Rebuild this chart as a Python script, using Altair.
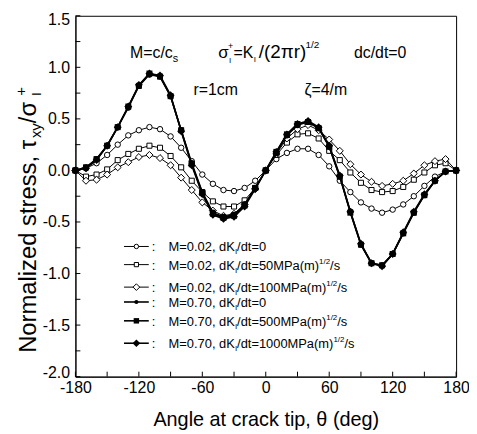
import altair as alt
import pandas as pd

# ---------------- data ----------------
theta = [-180, -170, -160, -150, -140, -130, -120, -110, -100, -90, -80, -70, -60, -50, -40, -30, -20, -10,
         0, 10, 20, 30, 40, 50, 60, 70, 80, 90, 100, 110, 120, 130, 140, 150, 160, 170, 180]

m002_dk0 = [0, 0.02, 0.07, 0.15, 0.25, 0.34, 0.39, 0.42, 0.40, 0.33, 0.22, 0.09, -0.04, -0.13, -0.19, -0.20, -0.17, -0.10,
            0, 0.11, 0.17, 0.21, 0.21, 0.15, 0.04, -0.10, -0.21, -0.31, -0.37, -0.41, -0.38, -0.33, -0.25, -0.15, -0.06, -0.01, 0]
m002_dk50 = [0, -0.06, -0.04, 0.01, 0.10, 0.16, 0.21, 0.24, 0.22, 0.14, 0.03, -0.10, -0.21, -0.30, -0.35, -0.35, -0.29, -0.17,
             0, 0.15, 0.27, 0.35, 0.36, 0.31, 0.19, 0.10, -0.02, -0.12, -0.19, -0.21, -0.20, -0.16, -0.09, -0.02, 0.05, 0.07, 0]
m002_dk100 = [0, -0.10, -0.09, -0.04, 0.03, 0.08, 0.13, 0.15, 0.12, 0.05, -0.07, -0.19, -0.31, -0.39, -0.44, -0.42, -0.33, -0.18,
              0, 0.16, 0.31, 0.40, 0.44, 0.39, 0.30, 0.19, 0.06, -0.04, -0.11, -0.15, -0.13, -0.10, -0.03, 0.05, 0.09, 0.11, 0]
m070_dk0 = [0, 0.03, 0.11, 0.24, 0.42, 0.61, 0.82, 0.93, 0.91, 0.72, 0.39, 0.07, -0.21, -0.41, -0.45, -0.43, -0.33, -0.17,
            0, 0.17, 0.34, 0.44, 0.47, 0.41, 0.23, -0.06, -0.40, -0.72, -0.90, -0.92, -0.81, -0.61, -0.41, -0.24, -0.10, -0.01, 0]
m070_dk500 = [0, 0.03, 0.11, 0.24, 0.42, 0.62, 0.82, 0.94, 0.91, 0.72, 0.39, 0.06, -0.22, -0.42, -0.46, -0.44, -0.34, -0.17,
              0, 0.18, 0.35, 0.45, 0.47, 0.41, 0.23, -0.06, -0.41, -0.72, -0.90, -0.92, -0.81, -0.61, -0.41, -0.24, -0.10, -0.01, 0]
m070_dk1000 = [0, 0.02, 0.10, 0.24, 0.42, 0.62, 0.83, 0.94, 0.92, 0.73, 0.38, 0.05, -0.23, -0.43, -0.47, -0.45, -0.35, -0.18,
               0, 0.18, 0.35, 0.45, 0.48, 0.42, 0.24, -0.05, -0.40, -0.71, -0.90, -0.93, -0.81, -0.60, -0.40, -0.23, -0.10, -0.01, 0]

x_label_values = [-180, -120, -60, 0, 60, 120, 180]
y_label_values = [-2.0, -1.5, -1.0, -0.5, 0.0, 0.5, 1.0, 1.5]
x_tick_values = [-180, -150, -120, -90, -60, -30, 0, 30, 60, 90, 120, 150, 180]
y_tick_values = [-2.0, -1.75, -1.5, -1.25, -1.0, -0.75, -0.5, -0.25, 0.0, 0.25, 0.5, 0.75, 1.0, 1.25, 1.5]

legend_main = ["M=0.02, dK", "M=0.02, dK", "M=0.02, dK", "M=0.70, dK", "M=0.70, dK", "M=0.70, dK"]
legend_rate = ["/dt=0", "/dt=50MPa(m)", "/dt=100MPa(m)", "/dt=0", "/dt=500MPa(m)", "/dt=1000MPa(m)"]
legend_has_unit = [False, True, True, False, True, True]

x_title = "Angle at crack tip, θ (deg)"

# ---------------- layout / style ----------------
W, H = 384, 364
FONT = "Liberation Sans"
xs = alt.Scale(domain=[-180, 180], nice=False, zero=False)
ys = alt.Scale(domain=[-2.0, 1.5], nice=False, zero=False)

xaxis = alt.Axis(values=x_label_values, tickSize=0, grid=False, domainColor="black", domainWidth=1,
                 labelFont=FONT, labelFontSize=16, labelColor="black", labelPadding=3, labelFlush=False,
                 labelExpr="datum.value < 0 ? '-' + format(-datum.value, 'd') : format(datum.value, 'd')",
                 title=x_title, titleFont=FONT, titleFontSize=20, titleFontWeight="normal",
                 titleColor="black", titlePadding=14)
yaxis = alt.Axis(values=y_label_values, tickSize=0, grid=False, domainColor="black", domainWidth=1,
                 labelFont=FONT, labelFontSize=16, labelColor="black", labelPadding=6,
                 labelFlush=True, labelFlushOffset=4,
                 labelExpr="datum.value < 0 ? '-' + format(-datum.value, '.1f') : format(datum.value, '.1f')",
                 title=None)
X = alt.X("theta:Q", scale=xs, axis=xaxis)
Y = alt.Y("v:Q", scale=ys, axis=yaxis)

series = [
    # values, shape, filled, plot size, line width, legend size
    (m002_dk0, "circle", False, 30, 1.0, 20),
    (m002_dk50, "square", False, 26, 1.0, 18),
    (m002_dk100, "diamond", False, 50, 1.0, 45),
    (m070_dk0, "circle", True, 40, 1.6, 18),
    (m070_dk500, "square", True, 36, 1.6, 30),
    (m070_dk1000, "diamond", True, 64, 1.6, 60),
]
legend_y = [232.7, 251, 273.7, 288.7, 307.7, 330.3]

AW = {' ': .278, '(': .333, ')': .333, '+': .584, ',': .278, '-': .333, '.': .278, '/': .278, ':': .278,
      '=': .584, 'I': .278, 'K': .667, 'M': .833, 'N': .722, 'P': .667, 'a': .556, 'c': .5, 'd': .556,
      'e': .556, 'i': .222, 'l': .222, 'm': .833, 'o': .556, 'r': .333, 's': .5, 't': .278, 'x': .5,
      'y': .5, 'z': .5, 'ζ': .45, 'π': .6, 'σ': .6, 'τ': .47}


def flow(parts, table):
    out, x = [], 0.0
    for text, size, dy, adv in parts:
        out.append((text, size, x, dy))
        if adv:
            x += sum(table.get(c, .556) for c in text) * size
    return out


def text_layers(pieces, pos, font=FONT, angle=None, x0=0.0):
    layers = []
    for text, size, dx, dy in pieces:
        kw = dict(align="left", baseline="alphabetic", font=font, fontSize=size,
                  dx=x0 + dx, dy=dy, color="black")
        if angle is not None:
            kw["angle"] = angle
        if pos[0] == "data":
            df = pd.DataFrame({"theta": [pos[1]], "v": [pos[2]], "t": [text]})
            enc = dict(x=X, y=Y, text="t:N")
        else:
            df = pd.DataFrame({"t": [text]})
            enc = dict(x=alt.value(pos[1]), y=alt.value(pos[2]), text="t:N")
        layers.append(alt.Chart(df).mark_text(**kw).encode(**enc))
    return layers


layers = []

# inward ticks
layers.append(alt.Chart(pd.DataFrame({"v": y_tick_values})).mark_rule(color="black", strokeWidth=1)
              .encode(y=Y, x=alt.value(0), x2=alt.value(5)))
layers.append(alt.Chart(pd.DataFrame({"theta": x_tick_values})).mark_rule(color="black", strokeWidth=1)
              .encode(x=X, y=alt.value(H), y2=alt.value(H - 5)))

# series
for vals, shape, filled, size, lw, _ in series:
    df = pd.DataFrame({"theta": theta, "v": vals})
    base = alt.Chart(df)
    layers.append(base.mark_line(color="black", strokeWidth=lw).encode(x=X, y=Y))
    if filled:
        pm = base.mark_point(shape=shape, filled=True, color="black", size=size, opacity=1)
    else:
        pm = base.mark_point(shape=shape, filled=True, fill="white", stroke="black", strokeWidth=1,
                             size=size, opacity=1)
    layers.append(pm.encode(x=X, y=Y))

# legend
one = pd.DataFrame({"a": [0]})
for i, (vals, shape, filled, size, lw, lsize) in enumerate(series):
    ry = legend_y[i]
    layers.append(alt.Chart(one).mark_rule(color="black", strokeWidth=lw)
                  .encode(x=alt.value(49), x2=alt.value(74), y=alt.value(ry)))
    if filled:
        pm = alt.Chart(one).mark_point(shape=shape, filled=True, color="black", size=lsize, opacity=1)
    else:
        pm = alt.Chart(one).mark_point(shape=shape, filled=True, fill="white", stroke="black",
                                       strokeWidth=1, size=lsize, opacity=1)
    layers.append(pm.encode(x=alt.value(61.5), y=alt.value(ry)))
    by = ry + 5
    layers += text_layers([(":", 13, 0, 0)], ("px", 77, by))
    parts = [(legend_main[i], 13, 0, True), ("I", 8, 3, True), (legend_rate[i], 13, 0, True)]
    if legend_has_unit[i]:
        parts += [("1/2", 8, -6, True), ("/s", 13, 0, True)]
    layers += text_layers(flow(parts, AW), ("px", 94, by))

# annotations (data coordinates)
layers += text_layers(flow([("M=c/c", 16, 0, True), ("s", 11, 4, True)], AW), ("data", -128.4, 1.09))
layers += text_layers([("σ", 17, 0, 0), ("+", 9, 10, -9), ("I", 8, 11, 5), ("=K", 16, 15.5, 0),
                       ("I", 8, 36, 4), ("/(2πr)", 19, 41, 0), ("1/2", 10, 88, -10)],
                      ("data", -45, 1.09))
layers += text_layers([("dc/dt=0", 16, 0, 0)], ("data", 83.4, 1.09))
layers += text_layers([("r=1cm", 16, 0, 0)], ("data", -68.4, 0.733))
layers += text_layers([("ζ=4/m", 16, 0, 0)], ("data", 36.6, 0.733))

# rotated y title
yt = flow([("Normalized stress, τ", 24, 0, True), ("xy", 15, 5, True), (" /σ", 24, 0, True),
           ("I", 12, 5, False), ("+", 15, -10, True)], AW)
layers += text_layers(yt, ("px", -40, 340), angle=270)

chart = alt.layer(*layers).properties(
    width=W, height=H,
    padding={"left": 68, "top": 6, "right": 13, "bottom": 54},
    autosize=alt.AutoSizeParams(type="none"),
    background="white",
).configure_view(stroke="black", strokeWidth=1)

chart.save("out.html", embed_options={"renderer": "svg", "actions": False})
